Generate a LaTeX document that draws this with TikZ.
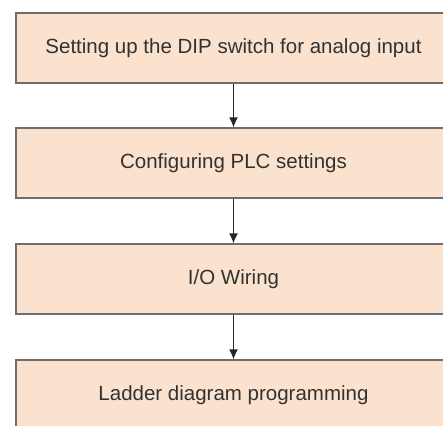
\documentclass[tikz,border=0pt]{standalone}
\usepackage{fontspec}
\setmainfont{Liberation Sans}
\usetikzlibrary{arrows.meta}

\definecolor{boxfill}{RGB}{250,226,206}
\definecolor{boxline}{RGB}{110,110,110}
\definecolor{boxtext}{RGB}{50,50,50}

\tikzset{
    stepbox/.style={draw=boxline, line width=1.2pt, fill=boxfill, text=boxtext,
        minimum width=435pt, minimum height=70pt, inner sep=0pt,
        font=\fontsize{20.5pt}{24pt}\selectfont},
    flow/.style={-{Latex[length=10pt,width=9pt]}, line width=1.4pt, black!85}
}

\begin{document}
\begin{tikzpicture}[x=1pt, y=1pt]
            \useasboundingbox (0, 0) rectangle (443, 425);

            \node[stepbox] (dip) at (233.5, 377) {Setting up the DIP switch for analog input};
            \node[stepbox] (plc) at (233.5, 262) {Configuring PLC settings};
            \node[stepbox] (wiring) at (233.5, 146) {I/O Wiring};
            \node[stepbox] (ladder) at (233.5, 30) {Ladder diagram programming};

            \draw[flow] (dip.south) -- (plc.north); % dip-plc
            \draw[flow] (plc.south) -- (wiring.north); % plc-wiring
            \draw[flow] (wiring.south) -- (ladder.north); % wiring-ladder
        \end{tikzpicture}
\end{document}
